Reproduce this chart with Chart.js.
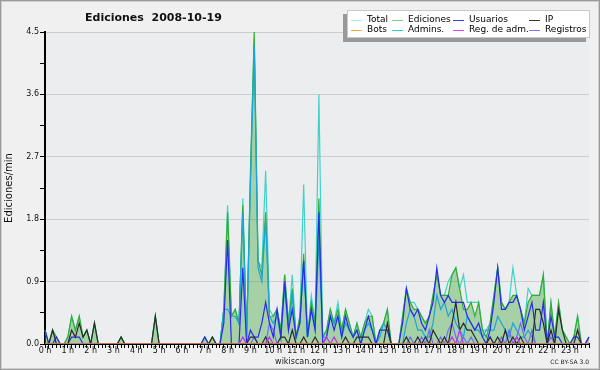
<!DOCTYPE html>
<html>
<head>
<meta charset="utf-8">
<script src="https://cdn.jsdelivr.net/npm/chart.js@4"></script>
<style>
  html, body { margin: 0; padding: 0; background: #f0f0f0; }
</style>
</head>
<body>
<canvas id="chart" width="600" height="370"></canvas>
<script>
// 10-minute slots, 144 per day, values in edits per minute
const slotLabels = [];
for (let h = 0; h < 24; h++) {
  for (let m = 0; m < 60; m += 10) slotLabels.push(h + ':' + String(m).padStart(2, '0'));
}
const yTickValues = [0, 0.45, 0.9, 1.35, 1.8, 2.25, 2.7, 3.15, 3.6, 4.05, 4.5];

const total = [
  0.2,0,0.2,0.1,0,0,0.1,0.4,0.2,0.4,0.1,0.2,
  0,0.3,0,0,0,0,0,0,0.1,0,0,0,
  0,0,0,0,0,0.4,0,0,0,0,0,0,
  0,0,0,0,0,0,0.1,0,0.1,0,0,0.5,
  2.0,0.4,0.5,0.3,2.1,0.1,2.5,4.4,1.2,1.1,2.5,0.5,
  0.4,0.5,0.2,1.0,0.3,1.0,0.1,0.4,2.3,0.1,0.7,0.3,
  3.6,0.1,0.2,0.5,0.3,0.6,0.2,0.5,0.3,0.1,0.3,0.1,
  0.3,0.5,0.4,0,0.2,0.3,0.5,0,0,0,0.4,0.8,
  0.6,0.6,0.5,0.4,0.3,0.4,0.7,1.0,0.7,0.7,0.9,1.0,
  1.1,0.8,1.0,0.6,0.6,0.6,0.6,0.2,0.2,0.3,0.7,1.1,
  0.6,0.5,0.6,1.1,0.7,0.5,0.3,0.8,0.7,0.7,0.7,1.0,
  0,0.6,0.1,0.6,0.2,0.1,0,0.1,0.4,0,0,0.1
];
const ediciones = [
  0.2,0,0.2,0.1,0,0,0.1,0.4,0.2,0.4,0.1,0.2,
  0,0.3,0,0,0,0,0,0,0.1,0,0,0,
  0,0,0,0,0,0.4,0,0,0,0,0,0,
  0,0,0,0,0,0,0.1,0,0.1,0,0,0.5,
  1.9,0.4,0.5,0.3,2.0,0.1,2.4,4.5,1.2,1.0,1.9,0.4,
  0.4,0.5,0.2,1.0,0.3,0.8,0.1,0.4,1.3,0.1,0.6,0.3,
  2.1,0.1,0.2,0.5,0.3,0.5,0.2,0.5,0.3,0.1,0.3,0.1,
  0.3,0.4,0.4,0,0.2,0.3,0.5,0,0,0,0.4,0.8,
  0.6,0.5,0.5,0.4,0.3,0.4,0.7,1.0,0.7,0.7,0.7,1.0,
  1.1,0.8,0.5,0.5,0.6,0.4,0.6,0.2,0.1,0.3,0.7,1.1,
  0.6,0.5,0.6,0.7,0.7,0.5,0.3,0.6,0.7,0.7,0.7,1.0,
  0,0.6,0.1,0.6,0.2,0.1,0,0.1,0.4,0,0,0.1
];
const usuarios = [
  0.2,0,0,0.1,0,0,0,0.1,0.1,0.1,0,0,
  0,0,0,0,0,0,0,0,0,0,0,0,
  0,0,0,0,0,0,0,0,0,0,0,0,
  0,0,0,0,0,0,0.1,0,0,0,0,0.3,
  1.5,0,0,0,1.1,0,0.2,0.1,0.1,0.3,0.6,0.3,
  0.1,0.5,0.1,0.9,0.2,0.5,0.1,0.3,1.2,0.1,0.5,0.2,
  1.9,0,0.1,0.4,0.2,0.4,0.1,0.4,0.2,0.1,0.2,0,
  0.2,0.4,0.2,0,0.2,0.2,0.2,0,0,0,0.3,0.8,
  0.5,0.4,0.5,0.3,0.2,0.4,0.6,1.1,0.7,0.6,0.7,0.6,
  0.6,0.6,0.6,0.4,0.3,0.2,0.3,0.1,0,0.2,0.6,1.1,
  0.5,0.5,0.6,0.6,0.7,0.5,0.2,0.4,0.6,0.2,0.2,0.6,
  0,0.4,0.1,0.1,0,0,0,0.1,0.1,0,0,0.1
];
const ip = [
  0,0,0.2,0,0,0,0,0.2,0.1,0.3,0.1,0.2,
  0,0.3,0,0,0,0,0,0,0.1,0,0,0,
  0,0,0,0,0,0.4,0,0,0,0,0,0,
  0,0,0,0,0,0,0,0,0.1,0,0,0,
  0,0,0,0,0,0,0.1,0.1,0,0,0.1,0,
  0,0,0.1,0.1,0,0.2,0,0,0.1,0,0,0.1,
  0,0,0,0,0,0,0,0.1,0,0,0.1,0.1,
  0.1,0.1,0,0,0,0,0.3,0,0,0,0,0.1,
  0,0,0.1,0,0.1,0,0.2,0.1,0,0.1,0,0.3,
  0.6,0.2,0.3,0.2,0.2,0.1,0,0,0,0.1,0,0.1,
  0,0.2,0,0.1,0,0.1,0,0,0,0.5,0.5,0.3,
  0,0.2,0,0.5,0.2,0,0,0,0.2,0,0,0
];
const bots = new Array(144).fill(0);
const admins = [
  0,0,0,0,0,0,0,0,0,0,0,0,
  0,0,0,0,0,0,0,0,0,0,0,0,
  0,0,0,0,0,0,0,0,0,0,0,0,
  0,0,0,0,0,0,0,0,0,0,0,0.5,
  0.5,0.4,0.4,0.3,1.9,0.1,2.3,4.3,1.1,0.9,1.8,0.4,
  0.3,0.4,0.1,0.8,0.2,0.7,0.1,0.3,1.2,0.1,0.5,0.2,
  1.5,0.1,0.1,0.4,0.3,0.4,0.1,0.3,0.2,0.1,0.2,0,
  0.2,0.3,0.2,0,0.1,0.3,0.2,0,0,0,0,0.3,
  0.5,0.4,0.2,0.2,0.1,0.1,0.3,0.7,0.5,0.6,0.4,0.5,
  0.3,0.2,0.1,0.4,0.3,0.2,0.2,0.1,0.2,0.2,0.2,0.4,
  0.3,0.2,0.1,0.3,0.2,0.1,0.1,0.2,0.1,0,0,0,
  0,0,0,0,0,0,0,0,0,0,0,0
];
const regAdm = [
  0,0,0,0,0,0,0,0,0,0,0,0,
  0,0,0,0,0,0,0,0,0,0,0,0,
  0,0,0,0,0,0,0,0,0,0,0,0,
  0,0,0,0,0,0,0,0,0,0,0,0,
  0,0,0,0,0.1,0,0,0,0,0,0,0.1,
  0,0,0,0,0,0,0,0,0,0,0,0,
  0,0,0.1,0,0.1,0,0,0,0,0,0,0,
  0,0,0,0,0,0,0,0,0,0,0,0,
  0,0,0,0,0,0,0,0,0,0,0,0.1,
  0,0.2,0,0,0,0,0,0,0,0,0,0,
  0,0,0,0,0.1,0,0,0,0,0,0,0,
  0,0,0,0,0,0,0,0,0,0,0,0
];
const registros = [
  0,0,0,0,0,0,0,0,0,0,0,0,
  0,0,0,0,0,0,0,0,0,0,0,0,
  0,0,0,0,0,0,0,0,0,0,0,0,
  0,0,0,0,0,0,0,0,0,0,0,0,
  0,0,0,0,0,0,0,0.1,0,0,0,0.3,
  0.2,0,0,0,0,0,0,0,0,0,0,0,
  0,0,0,0,0,0,0,0,0,0,0,0,
  0,0,0,0,0,0,0,0,0,0,0,0,
  0.1,0,0,0.1,0,0.2,0,0,0.1,0,0.2,0.3,
  0.1,0,0.1,0,0.1,0,0,0,0,0.1,0,0,
  0.1,0,0.2,0,0.1,0.3,0.1,0,0.2,0,0,0,
  0,0.1,0,0,0,0,0,0,0,0,0,0.1
];

const font = 'DejaVu Sans';

function line(label, data, color, legendColor, order, extra) {
  return Object.assign({
    label: label,
    data: data,
    borderColor: color,
    backgroundColor: color,
    legendColor: legendColor,
    borderWidth: 1.2,
    pointRadius: 0,
    tension: 0,
    fill: false,
    order: order
  }, extra || {});
}

const datasets = [
  line('Total', total, '#3fd2c8', '#a8ecec', 9),
  line('Ediciones', ediciones, '#33ad33', '#80d080', 8, { fill: 'origin', backgroundColor: 'rgba(70,170,65,0.42)' }),
  line('Usuarios', usuarios, '#2a2aee', '#3c3cf0', 4),
  line('IP', ip, '#2a2a2a', '#333333', 3),
  line('Bots', bots, '#ffa500', '#ffa830', 1),
  line('Admins.', admins, '#1aa6da', '#30d0e0', 6),
  line('Reg. de adm.', regAdm, '#c030f0', '#e040ff', 2),
  line('Registros', registros, '#6c6cff', '#7878ff', 5)
];

// background, frame, title, custom legend and footer texts
const decor = {
  id: 'decor',
  beforeDraw(chart) {
    const c = chart.ctx, a = chart.chartArea;
    c.save();
    c.fillStyle = '#f0f0f0';
    c.fillRect(0, 0, chart.width, chart.height);
    c.fillStyle = '#ecedef';
    c.fillRect(a.left, a.top, a.right - a.left, a.bottom - a.top);
    c.restore();
  },
  afterDraw(chart) {
    const c = chart.ctx;
    c.save();
    c.strokeStyle = '#9a9a9a';
    c.lineWidth = 1;
    c.strokeRect(0.5, 0.5, chart.width - 1, chart.height - 1);
    c.strokeStyle = '#d0d0d0';
    c.strokeRect(1.5, 1.5, chart.width - 3, chart.height - 3);

    c.fillStyle = '#111';
    c.textBaseline = 'alphabetic';
    c.font = 'bold 11px "' + font + '"';
    c.fillText('Ediciones  2008-10-19', 85, 21);

    // legend box
    c.fillStyle = '#999999';
    c.fillRect(343, 14, 243, 28);
    c.fillStyle = '#ffffff';
    c.fillRect(347, 10, 243, 28);
    c.strokeStyle = '#c8c8c8';
    c.strokeRect(347.5, 10.5, 242, 27);
    const colText = [367, 408, 469, 545];
    const rowY = [19.5, 29.5];
    c.font = '9px "' + font + '"';
    c.textBaseline = 'middle';
    chart.data.datasets.forEach((ds, i) => {
      const col = i % 4, row = Math.floor(i / 4);
      const x = colText[col], y = rowY[row];
      c.strokeStyle = ds.legendColor;
      c.lineWidth = 1;
      c.beginPath();
      c.moveTo(x - 16, Math.round(y) + 0.5);
      c.lineTo(x - 5, Math.round(y) + 0.5);
      c.stroke();
      c.fillStyle = '#000';
      c.fillText(ds.label, x, y);
    });

    c.fillStyle = '#222';
    c.textAlign = 'center';
    c.font = '8px "' + font + '"';
    c.fillText('wikiscan.org', 300, 362);
    c.textAlign = 'right';
    c.font = '6px "' + font + '"';
    c.fillText('CC BY-SA 3.0', 589, 362);
    c.restore();
  }
};

new Chart(document.getElementById('chart'), {
  type: 'line',
  data: { labels: slotLabels, datasets: datasets },
  plugins: [decor],
  options: {
    responsive: false,
    animation: false,
    devicePixelRatio: 1,
    layout: { padding: { top: 32, right: 11, bottom: 0, left: 0 } },
    plugins: {
      legend: { display: false },
      title: { display: false },
      tooltip: { enabled: false }
    },
    scales: {
      x: {
        z: 1,
        offset: false,
        afterFit: (s) => { s.height = 26; },
        border: { display: true, color: '#000', width: 2 },
        grid: { drawOnChartArea: false, tickLength: 4, tickColor: '#000', tickWidth: 1 },
        ticks: {
          autoSkip: false,
          maxRotation: 0,
          padding: -2,
          color: '#111',
          font: { family: font, size: 8 },
          callback: (v, i) => (i % 6 === 0 ? (i / 6) + ' h' : '')
        }
      },
      y: {
        min: 0,
        max: 4.5,
        afterFit: (s) => { s.width = 45; },
        afterBuildTicks: (s) => { s.ticks = yTickValues.map(v => ({ value: v })); },
        border: { display: true, color: '#000', width: 2 },
        grid: {
          color: (ctx) => (ctx.index % 2 === 0 ? '#cccccc' : 'rgba(0,0,0,0)'),
          tickColor: '#000',
          tickLength: 5
        },
        ticks: {
          padding: 1,
          color: '#111',
          font: { family: font, size: 8 },
          callback: (v, i) => (i % 2 === 0 ? Number(v).toFixed(1) : '')
        },
        title: {
          display: true,
          text: 'Ediciones/min',
          color: '#111',
          font: { family: font, size: 10 },
          padding: { top: 3, bottom: 3 }
        }
      }
    }
  }
});
</script>
</body>
</html>
